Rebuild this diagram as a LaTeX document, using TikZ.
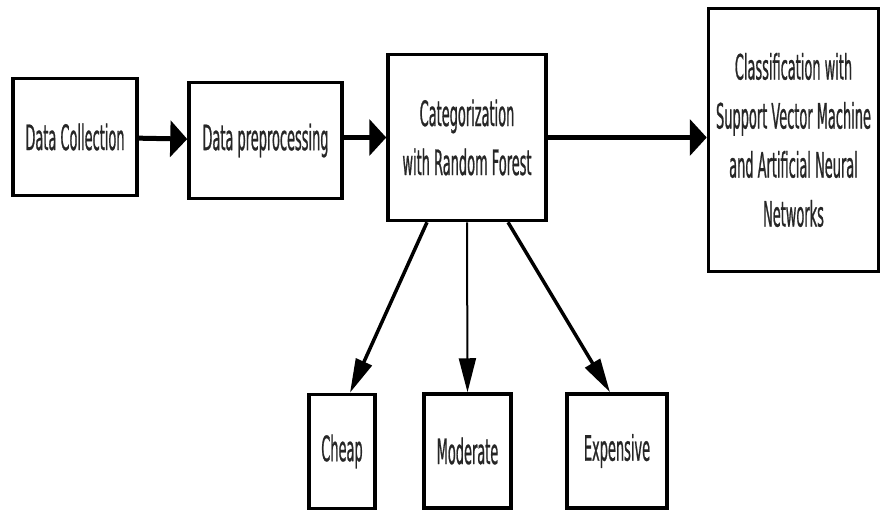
\documentclass[tikz,border=0pt]{standalone}
\usepackage{fontspec}
\setmainfont{DejaVu Sans}[FakeStretch=0.37, FakeBold=0.6]
\usetikzlibrary{arrows.meta}
\begin{document}
\begin{tikzpicture}[x=1pt, y=-1pt, font=\fontsize{35}{49}\selectfont]
      \tikzset{stage box/.style={draw, line width=3.5pt, align=center, inner sep=2pt, text=black!85},
               big arrow/.style={-{Triangle[length=17pt, width=36pt]}, line width=5pt},
               cat arrow/.style={-{Triangle[length=34pt, width=17pt]}, line width=3.5pt}}
      \useasboundingbox (0, 0) rectangle (881, 512);

      % Main pipeline
      \node[stage box, minimum width=124pt, minimum height=117pt] (collect) at (75, 137) {Data Collection};
      \node[stage box, minimum width=153pt, minimum height=116pt] (prep) at (265.5, 140.5) {Data preprocessing};
      \node[stage box, minimum width=158pt, minimum height=166pt] (cat) at (467, 137.5) {Categorization\\with Random Forest};
      \node[stage box, minimum width=170pt, minimum height=263pt] (svm) at (793.5, 140) {Classification with\\Support Vector Machine\\and Artificial Neural\\Networks};

      % Price categories
      \node[stage box, minimum width=66pt, minimum height=114pt] (cheap) at (342, 451.5) {Cheap};
      \node[stage box, minimum width=87pt, minimum height=114pt] (moderate) at (467.5, 451) {Moderate};
      \node[stage box, minimum width=100pt, minimum height=114pt] (expensive) at (617, 451) {Expensive};

      % Horizontal arrows
      \draw[big arrow] (collect) -- (prep);
      \draw[big arrow] (prep.east |- cat.west) -- (cat.west);
      \draw[big arrow] (cat.east) -- (svm.west |- cat.east);

      % Arrows down to the categories
      \draw[cat arrow] ([xshift=-40pt]cat.south) -- ([xshift=8pt]cheap.north);
      \draw[cat arrow, line width=2pt] (cat.south) -- (moderate.north);
      \draw[cat arrow] ([xshift=41pt]cat.south) -- ([xshift=-7pt]expensive.north);

    \end{tikzpicture}
\end{document}
